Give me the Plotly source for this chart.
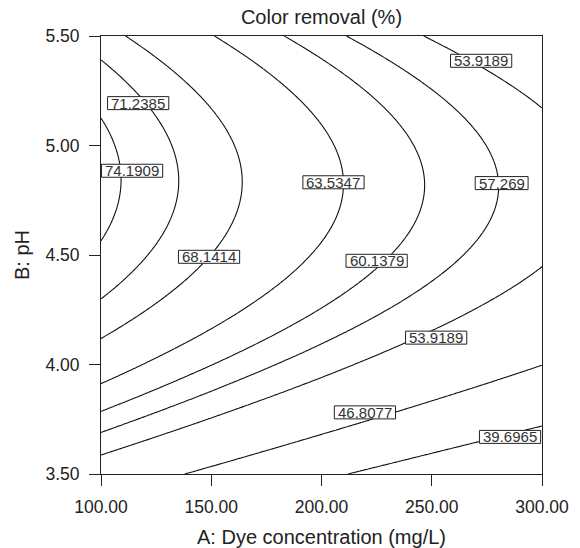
import numpy as np
import plotly.graph_objects as go

# ---- data -------------------------------------------------------------
# quadratic response-surface model (coded factors):
# A = (conc - 200)/100 ,  B = (pH - 4.5)/1.0
# Y = b0 + bA*A + bB*B + bAB*A*B + bAA*A^2 + bBB*B^2
model_terms = ["b0", "bA", "bB", "bAB", "bAA", "bBB"]
model_coefs = [63.06, -9.62, 8.81, -0.49, 0.965, -13.47]

conc_range = [100, 300]          # A: dye concentration (mg/L)
ph_range = [3.5, 5.5]            # B: pH
x_ticks = [100, 150, 200, 250, 300]
y_ticks = [3.5, 4.0, 4.5, 5.0, 5.5]

contour_levels = [39.6965, 46.8077, 53.9189, 57.269, 60.1379, 63.5347, 68.1414, 71.2385, 74.1909]

label_texts = ["74.1909", "71.2385", "68.1414", "63.5347", "60.1379", "57.269",
               "53.9189", "53.9189", "46.8077", "39.6965"]
# placement of each label along its contour: "ridge" or a concentration + branch
label_where = ["ridge", 118, 149, "ridge", 225, "ridge", 272.4, 252, 219.7, 285.5]
label_branch = ["", "upper", "lower", "", "lower", "", "upper", "lower", "lower", "lower"]
# pixel offsets of the label boxes from their anchor point on the line
label_xshift = [11, -2.5, 0, -10, 0, 3, 0, 0, 0, 0]
label_yshift = [9, -6, 0, 1.5, 7.5, 3.5, 6, -9, 9, -3]

# ---- surface -------------------------------------------------------------
b0, bA, bB, bAB, bAA, bBB = model_coefs


def response(conc, ph):
    a = (np.asarray(conc) - 200) / 100
    b = np.asarray(ph) - 4.5
    return b0 + bA*a + bB*b + bAB*a*b + bAA*a**2 + bBB*b**2


conc = np.linspace(conc_range[0], conc_range[1], 241)
ph = np.linspace(ph_range[0], ph_range[1], 241)
CC, PP = np.meshgrid(conc, ph)
Z = response(CC, PP)


def label_position(level, where, branch):
    if where == "ridge":
        a = np.linspace(-1, 1, 4001)
        b_star = -(bB + bAB*a) / (2*bBB)
        y = b0 + bA*a + bAA*a**2 + bB*b_star + bAB*a*b_star + bBB*b_star**2
        a_l = np.interp(level, y[::-1], a[::-1])
        b_l = -(bB + bAB*a_l) / (2*bBB)
        return 200 + 100*a_l, 4.5 + b_l
    a = (where - 200) / 100
    qa, qb, qc = bBB, bB + bAB*a, b0 + bA*a + bAA*a**2 - level
    disc = np.sqrt(max(qb*qb - 4*qa*qc, 0))
    roots = sorted([(-qb + disc) / (2*qa), (-qb - disc) / (2*qa)])
    b = roots[1] if branch == "upper" else roots[0]
    return where, 4.5 + b


FONT = "Liberation Sans, Arial, Helvetica, sans-serif"
TXT = "#222222"

fig = go.Figure()
for lv in contour_levels:
    fig.add_trace(go.Contour(
        x=conc, y=ph, z=Z, showscale=False, hoverinfo="skip",
        contours=dict(start=lv, end=lv, size=1, coloring="none"),
        line=dict(color="#111111", width=1.1)))

char_w = {".": 0.278}
for txt, where, br, xs, ys in zip(label_texts, label_where, label_branch, label_xshift, label_yshift):
    lx, ly = label_position(float(txt), where, br)
    w = sum(char_w.get(ch, 0.556) for ch in txt) * 15 + 7
    fig.add_shape(type="rect", xref="x", yref="y", xsizemode="pixel", ysizemode="pixel",
                  xanchor=lx, yanchor=ly, x0=-w/2 + xs, x1=w/2 + xs, y0=-6.5 + ys, y1=6.5 + ys,
                  fillcolor="white", line=dict(color="#222222", width=1), layer="above")
    fig.add_annotation(x=lx, y=ly, text=txt, showarrow=False, xanchor="center", yanchor="middle",
                       xshift=xs, yshift=ys, font=dict(family=FONT, size=15, color="#333333"))

# axis titles
fig.add_annotation(text="A: Dye concentration (mg/L)", xref="paper", yref="paper", x=0.5, y=0,
                   xanchor="center", yanchor="middle", yshift=-63, showarrow=False,
                   font=dict(family=FONT, size=20, color=TXT))
fig.add_annotation(text="B: pH", xref="paper", yref="paper", x=0, y=0.5, textangle=-90,
                   xanchor="center", yanchor="middle", xshift=-79, showarrow=False,
                   font=dict(family=FONT, size=20, color=TXT))

fig.update_layout(
    width=580, height=548, margin=dict(l=101, r=38, t=36, b=74, autoexpand=False),
    paper_bgcolor="white", plot_bgcolor="white", showlegend=False,
    title=dict(text="Color removal (%)", x=0.5, xref="paper", xanchor="center",
               y=1 - 17/548, yref="container", yanchor="middle",
               font=dict(family=FONT, size=20, color=TXT)),
    font=dict(family=FONT, color=TXT),
)
ax = dict(showline=True, linecolor="#222222", linewidth=1, mirror=True, ticks="outside",
          ticklen=11, tickwidth=1, tickcolor="#222222", showgrid=False, zeroline=False,
          tickformat=".2f", tickfont=dict(family=FONT, size=17.5, color=TXT), automargin=False)
fig.update_xaxes(**ax, range=conc_range, tickvals=x_ticks, ticklabelstandoff=6)
fig.update_yaxes(**ax, range=ph_range, tickvals=y_ticks, ticklabelstandoff=6)
fig.write_html("out.html")
